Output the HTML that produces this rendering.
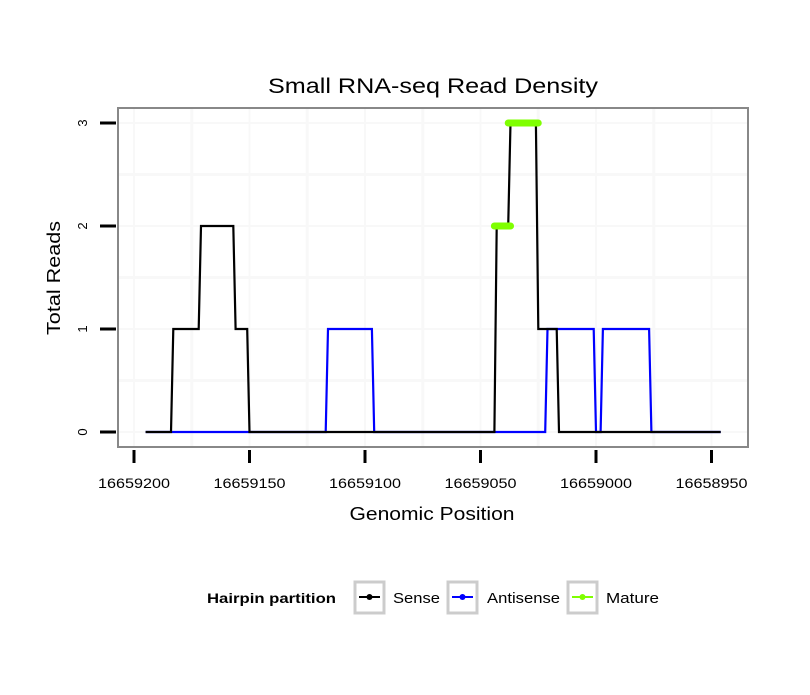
<!DOCTYPE html>
<html><head><meta charset="utf-8"><style>
body{margin:0;background:#fff}
svg{font-family:"Liberation Sans",sans-serif}
</style></head><body>
<svg id="chart" width="810" height="690" xmlns="http://www.w3.org/2000/svg">
<rect width="810" height="690" fill="#fff"/>
<text x="433" y="93" font-size="21" text-anchor="middle" textLength="330" lengthAdjust="spacingAndGlyphs">Small RNA-seq Read Density</text>
<g id="grid"></g>
<g id="series"></g>
<rect x="118" y="108" width="630" height="339" fill="none" stroke="#888" stroke-width="2"/>
<g id="axes"></g>
<text x="432" y="520" font-size="18" text-anchor="middle" textLength="165" lengthAdjust="spacingAndGlyphs">Genomic Position</text>
<text transform="translate(60,278) rotate(-90)" font-size="18" text-anchor="middle" textLength="114" lengthAdjust="spacingAndGlyphs">Total Reads</text>
<g>
<text x="207" y="603" font-size="14" font-weight="bold" textLength="129" lengthAdjust="spacingAndGlyphs">Hairpin partition</text>
<g>
<rect x="355" y="582" width="29" height="31" fill="#fff" stroke="#ccc" stroke-width="3"/>
<line x1="359" y1="597" x2="380" y2="597" stroke="#000" stroke-width="2"/><circle cx="369.5" cy="597" r="3" fill="#000"/>
<text x="393" y="603" font-size="15" textLength="47" lengthAdjust="spacingAndGlyphs">Sense</text></g>
<g>
<rect x="448" y="582" width="29" height="31" fill="#fff" stroke="#ccc" stroke-width="3"/>
<line x1="452" y1="597" x2="473" y2="597" stroke="#00f" stroke-width="2"/><circle cx="462.5" cy="597" r="3" fill="#00f"/>
<text x="487" y="603" font-size="15" textLength="73" lengthAdjust="spacingAndGlyphs">Antisense</text></g>
<g>
<rect x="568" y="582" width="29" height="31" fill="#fff" stroke="#ccc" stroke-width="3"/>
<line x1="572" y1="597" x2="593" y2="597" stroke="#7fff00" stroke-width="2"/><circle cx="582.5" cy="597" r="3" fill="#7fff00"/>
<text x="606" y="603" font-size="15" textLength="53" lengthAdjust="spacingAndGlyphs">Mature</text></g>
</g>
</svg>
<script>
const xTicks = [16659200, 16659150, 16659100, 16659050, 16659000, 16658950];
const yTicks = [0, 1, 2, 3];
const senseX = [16659195,16659184,16659183,16659172,16659171,16659157,16659156,16659151,16659150,16659044,16659043,16659038,16659037,16659026,16659025,16659017,16659016,16658946];
const senseY = [0,0,1,1,2,2,1,1,0,0,2,2,3,3,1,1,0,0];
const antiX = [16659195,16659117,16659116,16659097,16659096,16659022,16659021,16659001,16659000,16658998,16658997,16658977,16658976,16658946];
const antiY = [0,0,1,1,0,0,1,1,0,0,1,1,0,0];
const matureStart = [16659044, 16659038];
const matureEnd = [16659037, 16659025];
const matureY = [2, 3];

const NS = "http://www.w3.org/2000/svg";
function sx(v){ return 134 + (16659200 - v) * 2.31; }
function sy(v){ return 432 - v * 103; }
function mk(tag, attrs, parent){ const e=document.createElementNS(NS,tag); for(const k in attrs) e.setAttribute(k,attrs[k]); parent.appendChild(e); return e; }
const grid=document.getElementById('grid'), series=document.getElementById('series'), axes=document.getElementById('axes');
for(let i=0;i<xTicks.length;i++){
  const gx=sx(xTicks[i]);
  const l=mk('line',{x1:gx,x2:gx,y1:109,y2:446,stroke:'#f8f8f8','stroke-width':2},grid);
  
  
  if(i<xTicks.length-1){
    const mx=sx((xTicks[i]+xTicks[i+1])/2);
    const m=mk('line',{x1:mx,x2:mx,y1:109,y2:446,stroke:'#f8f8f8','stroke-width':3},grid);
    
    
  }
}
for(let i=0;i<yTicks.length;i++){
  const gy=sy(yTicks[i]);
  const l=mk('line',{x1:119,x2:747,y1:gy,y2:gy,stroke:'#f8f8f8','stroke-width':2},grid);
  
  
  if(i<yTicks.length-1){
    const my=sy(yTicks[i]+0.5);
    const m=mk('line',{x1:119,x2:747,y1:my,y2:my,stroke:'#f8f8f8','stroke-width':3},grid);
    
    
  }
}
function pts(xs,ys){ return xs.map((v,i)=>sx(v).toFixed(1)+','+sy(ys[i]).toFixed(1)).join(' '); }
const a=mk('polyline',{points:pts(antiX,antiY),fill:'none',stroke:'#00f','stroke-width':2.2},series);


const s=mk('polyline',{points:pts(senseX,senseY),fill:'none',stroke:'#000','stroke-width':2.2},series);


for(let i=0;i<matureY.length;i++){
  const m=mk('line',{x1:sx(matureStart[i]),x2:sx(matureEnd[i]),y1:sy(matureY[i]),y2:sy(matureY[i]),stroke:'#7fff00','stroke-width':7,'stroke-linecap':'round'},series);
  
  
}
xTicks.forEach(v=>{
  const t=mk('line',{x1:sx(v),x2:sx(v),y1:450,y2:463,stroke:'#000','stroke-width':3},axes);
  
  
  const tx=mk('text',{x:sx(v),y:488,'font-size':14,'text-anchor':'middle',textLength:72,lengthAdjust:'spacingAndGlyphs'},axes);
  tx.textContent=v;
  
  
});
yTicks.forEach(v=>{
  const t=mk('line',{x1:100,x2:116,y1:sy(v),y2:sy(v),stroke:'#000','stroke-width':3},axes);
  
  
  const tx=mk('text',{transform:'translate(87,'+sy(v)+') rotate(-90)','font-size':13,'text-anchor':'middle'},axes);
  tx.textContent=v;
  
  
});
</script>
</body></html>
